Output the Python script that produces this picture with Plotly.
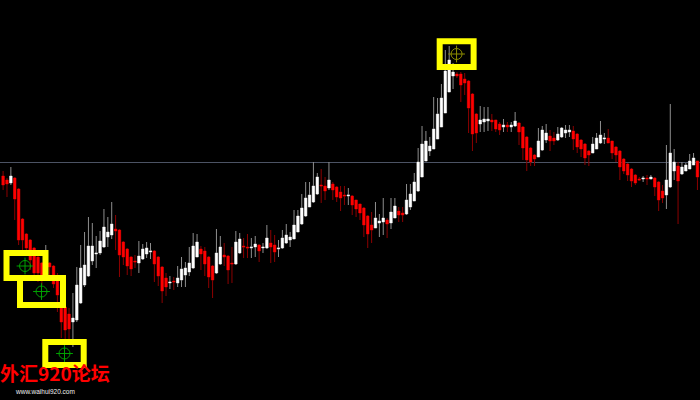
import plotly.graph_objects as go

# Candle readings, measured as depth below the top of the 400-unit price window
open_depth = [176,180,183,178,189,219,234,240,248,257,263,262,263,266,280,307,307,314,322,320,
 303,285,276,261,254,253,247,237,235,229,230,242,249,257,261,263,259,254,252,251,
 257,267,278,283,281,283,280,275,272,268,257,249,251,257,266,273,264,255,256,263,
 264,253,246,247,248,247,245,248,248,243,245,249,248,243,240,239,232,224,216,207,
 202,194,185,186,188,184,187,192,195,196,196,200,204,208,216,225,228,223,222,220,
 223,218,211,213,214,207,201,191,177,161,151,149,139,127,113,92,76,74,74,79,
 81,94,114,124,122,121,120,120,124,127,125,127,126,123,127,137,148,155,157,150,
 140,136,138,140,137,133,132,131,134,140,144,151,153,149,143,139,138,141,147,151,
 159,164,169,175,179,179,178,179,178,182,191,195,187,171,166,174,171,169,165,161]
close_depth = [185,184,176,199,240,240,248,260,273,273,277,258,267,284,295,322,330,329,318,285,
 268,265,246,246,253,241,227,232,224,231,255,257,266,269,262,256,249,248,251,264,
 276,291,287,282,282,278,269,268,263,246,242,254,264,277,280,253,247,257,270,264,
 242,239,247,248,247,244,251,247,238,247,252,248,238,235,237,225,216,208,198,195,
 186,177,186,191,180,190,197,198,196,195,205,209,213,225,234,230,218,221,218,224,
 212,206,215,215,200,194,182,162,144,141,146,129,114,98,71,60,72,76,85,83,
 108,134,133,120,119,119,122,129,130,125,127,125,121,132,148,160,162,159,141,130,
 133,141,141,134,128,130,130,139,147,149,158,155,144,138,135,138,143,153,155,167,
 171,175,181,183,180,178,179,177,187,200,198,180,153,162,181,167,165,161,158,177]
high_depth = [171,178,167,177,188,218,233,239,247,256,262,245,262,265,273,305,305,308,293,267,
 245,232,217,223,236,231,209,217,202,215,229,241,248,256,255,241,244,242,243,250,
 256,266,273,276,277,266,257,262,247,233,234,246,247,256,265,229,236,243,255,247,
 231,233,238,234,238,236,244,243,225,230,235,240,230,224,232,210,210,194,182,182,
 162,173,169,177,162,182,186,186,186,188,195,200,204,207,215,212,202,214,198,218,
 198,198,207,207,184,184,173,148,126,131,137,97,98,84,50,46,63,72,72,73,
 80,93,113,106,107,107,114,120,122,119,122,122,112,122,126,136,147,154,128,126,
 124,130,132,127,127,125,125,126,133,139,143,150,137,133,121,133,129,141,146,150,
 158,163,168,174,177,176,175,175,177,181,185,145,104,149,162,162,163,154,153,161]
low_depth = [190,197,185,220,245,250,252,270,280,282,285,281,275,288,312,338,345,340,347,322,
 304,287,277,265,268,255,248,247,239,250,277,265,275,276,268,273,260,258,259,282,
 286,303,296,289,290,287,287,287,276,269,257,270,276,288,298,274,265,266,284,283,
 265,254,258,258,258,257,262,253,249,263,262,257,249,244,247,239,232,225,217,207,
 203,195,203,200,190,200,202,211,205,205,215,217,220,237,248,243,228,237,235,238,
 229,218,222,222,215,210,201,192,177,161,156,149,139,127,113,92,89,78,102,95,
 133,151,143,132,132,131,131,132,135,132,132,132,127,145,160,171,166,166,157,151,
 143,151,145,141,138,138,137,150,153,157,165,166,153,149,144,144,143,159,162,180,
 174,181,187,185,181,182,185,179,196,211,203,209,188,180,224,175,171,169,165,190]

levels = 400
opens = [levels - v for v in open_depth]
closes = [levels - v for v in close_depth]
highs = [levels - v for v in high_depth]
lows = [levels - v for v in low_depth]
bars = list(range(len(opens)))
body_tops = [max(a, b) for a, b in zip(opens, closes)]
body_bottoms = [min(a, b) for a, b in zip(opens, closes)]

reference_level = 237.5
marker_bars = [5.65, 9.9, 15.83, 116.9]
marker_levels = [134, 108.5, 46.5, 346]
marker_colors = ["#00a000", "#00a000", "#00a000", "#8c8c00"]
# highlighted rectangles: left bar, right bar, lower level, upper level
box_left = [0.88, 4.36, 10.88, 112.55]
box_right = [10.93, 15.44, 20.78, 121.3]
box_bottom = [122, 95, 35, 333]
box_top = [147, 122, 58, 358.7]

X0, XSTEP = 3.1, 3.879
fig = go.Figure()
fig.add_trace(go.Candlestick(
    x=bars, open=opens, high=highs, low=lows, close=closes,
    increasing=dict(line=dict(color="#8e8e8e", width=1), fillcolor="#8e8e8e"),
    decreasing=dict(line=dict(color="#8c0000", width=1), fillcolor="#8c0000"),
    whiskerwidth=0, hoverinfo="skip", showlegend=False))
fig.add_trace(go.Candlestick(
    x=bars, open=opens, high=body_tops, low=body_bottoms, close=closes,
    increasing=dict(line=dict(color="#ffffff", width=0), fillcolor="#ffffff"),
    decreasing=dict(line=dict(color="#ff0000", width=0), fillcolor="#ff0000"),
    whiskerwidth=0, hoverinfo="skip", showlegend=False))

fig.add_hline(y=reference_level, line=dict(color="#4c5364", width=1), layer="below")

for l, r, b, t in zip(box_left, box_right, box_bottom, box_top):
    fig.add_shape(type="rect", x0=l, x1=r, y0=b, y1=t,
                  line=dict(color="#ffff00", width=6), layer="above")

fig.add_trace(go.Scatter(x=marker_bars, y=marker_levels, mode="markers", hoverinfo="skip", showlegend=False,
    marker=dict(symbol="circle-open", size=11, color=marker_colors, line=dict(width=1, color=marker_colors))))
fig.add_trace(go.Scatter(x=marker_bars, y=marker_levels, mode="markers", hoverinfo="skip", showlegend=False,
    marker=dict(symbol="cross-thin-open", size=12, color=marker_colors, line=dict(width=1, color=marker_colors))))

fig.add_annotation(text="<b>外汇920论坛</b>", xref="paper", yref="paper", x=-0.001, y=0.0325, xanchor="left", yanchor="bottom",
                   showarrow=False, borderpad=0, font=dict(family="Noto Sans CJK SC", size=19, color="#ff0000"))
fig.add_annotation(text="www.waihui920.com", xref="paper", yref="paper", x=0.0195, y=0.0225, xanchor="left", yanchor="middle",
                   showarrow=False, borderpad=0, font=dict(family="Liberation Sans", size=6.5, color="#f0f0f0"))

fig.update_layout(
    width=700, height=400, margin=dict(l=0, r=0, t=0, b=0),
    paper_bgcolor="#000000", plot_bgcolor="#000000", hovermode=False, showlegend=False,
    boxgap=0.2, boxgroupgap=0.2,
    xaxis=dict(visible=False, rangeslider=dict(visible=False), range=[-X0 / XSTEP, (700 - X0) / XSTEP]),
    yaxis=dict(visible=False, range=[0, levels]),
)
fig.write_html("out.html", config=dict(displayModeBar=False),
               post_script="document.body.style.margin='0';document.body.style.background='#000';")
